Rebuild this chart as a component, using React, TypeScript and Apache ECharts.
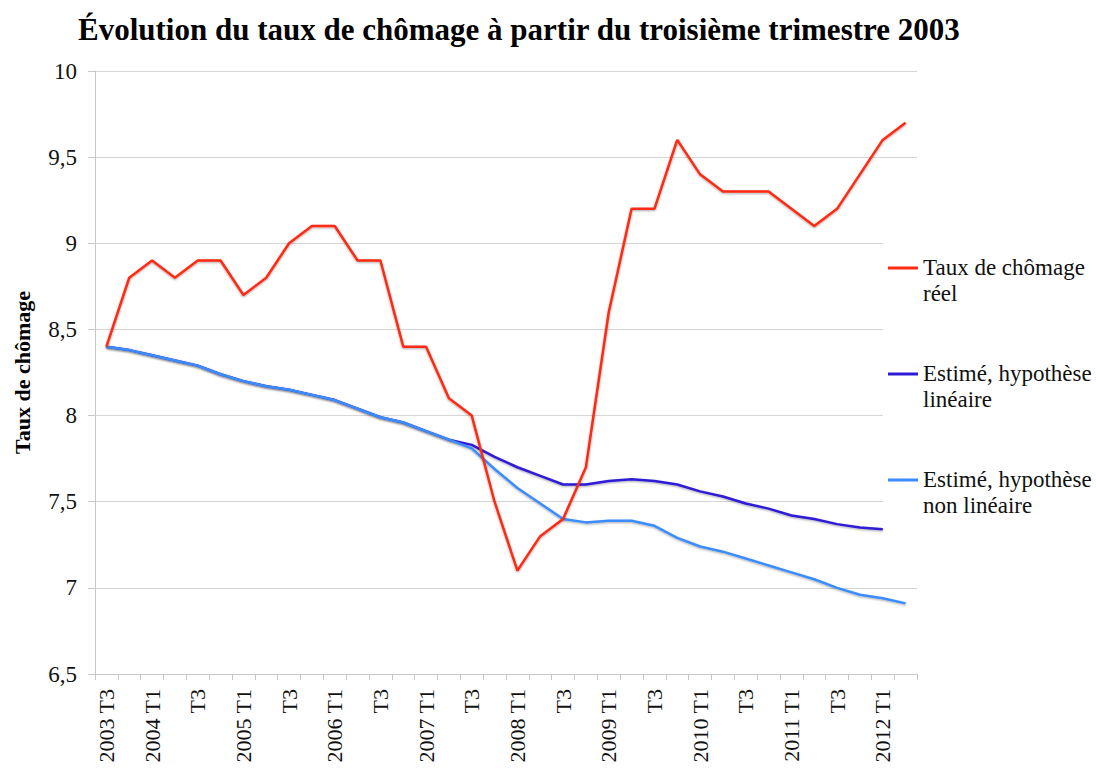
import React, { useEffect, useRef } from "react";
import * as echarts from "echarts";

const categories: string[] = [
  "2003 T3", "2003 T4",
  "2004 T1", "2004 T2", "2004 T3", "2004 T4",
  "2005 T1", "2005 T2", "2005 T3", "2005 T4",
  "2006 T1", "2006 T2", "2006 T3", "2006 T4",
  "2007 T1", "2007 T2", "2007 T3", "2007 T4",
  "2008 T1", "2008 T2", "2008 T3", "2008 T4",
  "2009 T1", "2009 T2", "2009 T3", "2009 T4",
  "2010 T1", "2010 T2", "2010 T3", "2010 T4",
  "2011 T1", "2011 T2", "2011 T3", "2011 T4",
  "2012 T1", "2012 T2",
];

const tauxReel: number[] = [
  8.4, 8.8, 8.9, 8.8, 8.9, 8.9, 8.7, 8.8, 9.0, 9.1,
  9.1, 8.9, 8.9, 8.4, 8.4, 8.1, 8.0, 7.5, 7.1, 7.3,
  7.4, 7.7, 8.6, 9.2, 9.2, 9.6, 9.4, 9.3, 9.3, 9.3,
  9.2, 9.1, 9.2, 9.4, 9.6, 9.7,
];

const estimeLineaire: (number | null)[] = [
  8.4, 8.38, 8.35, 8.32, 8.29, 8.24, 8.2, 8.17, 8.15, 8.12,
  8.09, 8.04, 7.99, 7.96, 7.91, 7.86, 7.83, 7.76, 7.7, 7.65,
  7.6, 7.6, 7.62, 7.63, 7.62, 7.6, 7.56, 7.53, 7.49, 7.46,
  7.42, 7.4, 7.37, 7.35, 7.34, null,
];

const estimeNonLineaire: number[] = [
  8.4, 8.38, 8.35, 8.32, 8.29, 8.24, 8.2, 8.17, 8.15, 8.12,
  8.09, 8.04, 7.99, 7.96, 7.91, 7.86, 7.81, 7.69, 7.58, 7.49,
  7.4, 7.38, 7.39, 7.39, 7.36, 7.29, 7.24, 7.21, 7.17, 7.13,
  7.09, 7.05, 7.0, 6.96, 6.94, 6.91,
];

const seriesNames: string[] = [
  "Taux de chômage\nréel",
  "Estimé, hypothèse\nlinéaire",
  "Estimé, hypothèse\nnon linéaire",
];

const SERIF = "'Liberation Serif', 'Times New Roman', serif";
const LEGEND_ICON = "path://M0,0h30v3h-30z M0,27h0.01v0.01h-0.01z";

export default function App() {
  const ref = useRef<HTMLDivElement>(null);

  useEffect(() => {
    document.body.style.margin = "0";
    if (!ref.current) return;
    const chart = echarts.init(ref.current, null, { renderer: "svg" });

    const lineShadow = {
      shadowColor: "rgba(0,0,0,0.35)",
      shadowBlur: 2,
      shadowOffsetY: 1,
    };

    chart.setOption({
      animation: false,
      backgroundColor: "#ffffff",
      title: {
        text: "Évolution du taux de chômage à partir du troisième trimestre 2003",
        left: 73,
        top: 9,
        textStyle: {
          fontFamily: SERIF,
          fontWeight: "bold",
          fontSize: 31,
          color: "#000",
        },
      },
      grid: { left: 95, right: 179, top: 71, bottom: 100 },
      legend: {
        orient: "vertical",
        left: 883,
        top: 240,
        padding: [14, 10, 10, 5],
        itemGap: 54,
        itemWidth: 30,
        itemHeight: 28,
        backgroundColor: "#ffffff",
        icon: LEGEND_ICON,
        textStyle: {
          fontFamily: SERIF,
          fontSize: 23,
          lineHeight: 26,
          color: "#111",
        },
        data: seriesNames,
      },
      xAxis: {
        type: "category",
        data: categories,
        boundaryGap: true,
        axisLine: { lineStyle: { color: "#c8c8c8", width: 1 } },
        axisTick: { show: true, interval: 0, length: 6, lineStyle: { color: "#c8c8c8" } },
        axisLabel: {
          interval: 1,
          rotate: 90,
          margin: 15,
          fontFamily: SERIF,
          fontSize: 22,
          color: "#111",
          formatter: (v: string, i: number) => {
            if (i === 0) return v;
            return v.endsWith("T1") ? v : v.split(" ")[1];
          },
        },
        splitLine: { show: false },
      },
      yAxis: {
        type: "value",
        min: 6.5,
        max: 10,
        interval: 0.5,
        name: "Taux de chômage",
        nameLocation: "middle",
        nameRotate: 90,
        nameGap: 62,
        nameTextStyle: {
          fontFamily: SERIF,
          fontWeight: "bold",
          fontSize: 22,
          color: "#000",
        },
        axisLine: { show: true, lineStyle: { color: "#c8c8c8", width: 1 } },
        axisTick: { show: true, length: 7, lineStyle: { color: "#c8c8c8" } },
        axisLabel: {
          margin: 18,
          fontFamily: SERIF,
          fontSize: 23,
          color: "#111",
          formatter: (v: number) => String(v).replace(".", ","),
        },
        splitLine: { show: true, lineStyle: { color: "#d6d6d6", width: 1 } },
      },
      series: [
        {
          name: seriesNames[0],
          type: "line",
          data: tauxReel,
          symbol: "none",
          z: 5,
          itemStyle: { color: "#ff2a12" },
          lineStyle: { color: "#ff2a12", width: 2.5, ...lineShadow },
        },
        {
          name: seriesNames[1],
          type: "line",
          data: estimeLineaire,
          symbol: "none",
          z: 3,
          itemStyle: { color: "#2f1ad6" },
          lineStyle: { color: "#2f1ad6", width: 2.5, ...lineShadow },
        },
        {
          name: seriesNames[2],
          type: "line",
          data: estimeNonLineaire,
          symbol: "none",
          z: 4,
          itemStyle: { color: "#3b8cff" },
          lineStyle: { color: "#3b8cff", width: 2.5, ...lineShadow },
        },
      ],
    });

    return () => chart.dispose();
  }, []);

  return <div ref={ref} style={{ width: 1096, height: 774 }} />;
}
